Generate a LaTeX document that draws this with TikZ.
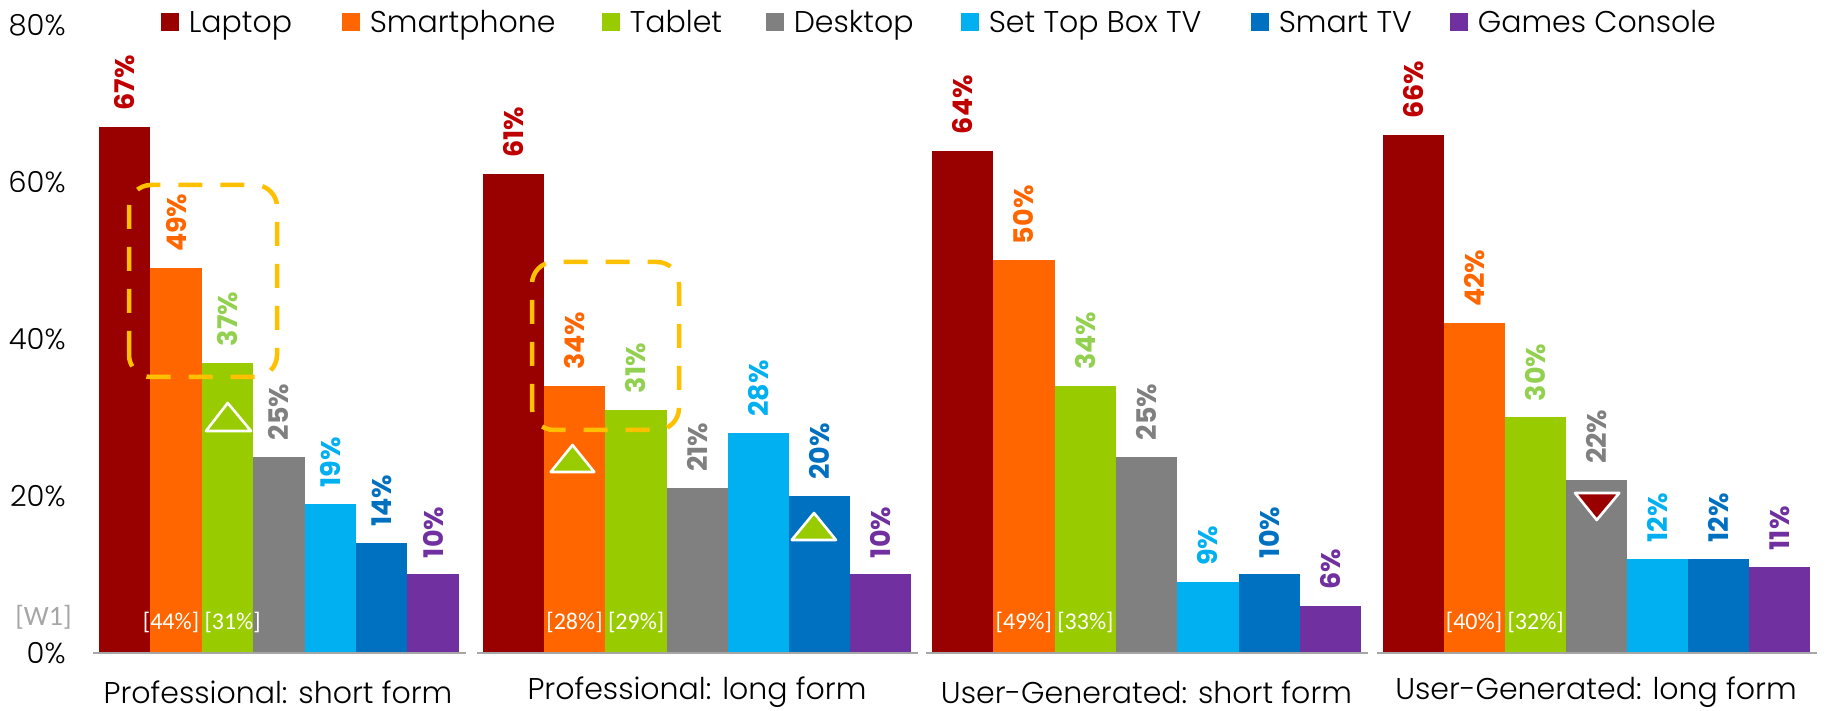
\documentclass[tikz,border=0pt]{standalone}
\usepackage{fontspec}
\setmainfont{Poppins Light}
\newfontfamily\valuefont{Poppins}
\newfontfamily\notefont{Carlito}
\usetikzlibrary{positioning}
% bar fills, one per device
\definecolor{bar0}{HTML}{990000}% laptop
\definecolor{bar1}{HTML}{FF6600}% smartphone
\definecolor{bar2}{HTML}{99CC00}% tablet
\definecolor{bar3}{HTML}{808080}% desktop
\definecolor{bar4}{HTML}{00B0F0}% set top box
\definecolor{bar5}{HTML}{0070C0}% smart tv
\definecolor{bar6}{HTML}{7030A0}% games console
% value label colours
\definecolor{lab0}{HTML}{C00000}
\definecolor{lab1}{HTML}{FF6600}
\definecolor{lab2}{HTML}{92D050}
\definecolor{lab3}{HTML}{808080}
\definecolor{lab4}{HTML}{00B0F0}
\definecolor{lab5}{HTML}{0070C0}
\definecolor{lab6}{HTML}{7030A0}
\definecolor{axisgray}{HTML}{A6A6A6}
\definecolor{wavegray}{HTML}{A6A6A6}
\definecolor{focusyellow}{HTML}{FFC000}
\tikzset{
  valuelabel/.style={rotate=90,anchor=west,inner sep=0pt,
                     font=\valuefont\bfseries\fontsize{13.5}{13.5}\selectfont},
  ticklabel/.style={anchor=east,inner sep=0pt,font=\fontsize{14.5}{14.5}\selectfont},
  keybox/.style={minimum size=9pt,inner sep=0pt},
  keytext/.style={inner sep=0pt,text height=10.4pt,text depth=0pt,
                  font=\fontsize{15}{15}\selectfont},
  grouplabel/.style={inner sep=0pt,font=\fontsize{15}{15}\selectfont},
  notelabel/.style={inner sep=0pt,font=\notefont\fontsize{12}{12}\selectfont},
  axisline/.style={draw=axisgray,line width=1.2pt},
  focusbox/.style={draw=focusyellow,line width=2.25pt,
                   dash pattern=on 12pt off 9pt,rounded corners=11pt},
  trendmark/.style={draw=white,line width=1.3pt,line join=round}
}
\begin{document}
\begin{tikzpicture}[x=0.5pt,y=0.5pt]
  \useasboundingbox (0,-58) rectangle (1825,653);
  % y axis
  \foreach \t in {0,20,40,60,80}
    \node[ticklabel] (tick-\t) at (66,{\t*7.85}) {\t\%};
  \node[notelabel,text=wavegray,anchor=east,font=\notefont\fontsize{14}{14}\selectfont]
    (wave) at (72,36) {[W1]};
  % legend
  \foreach \lx/\name [count=\k from 0] in {161/Laptop,342/Smartphone,602/Tablet,
      766/Desktop,961/Set Top Box TV,1251/Smart TV,1450/Games Console}{
    \node[keybox,fill=bar\k] (key-\k) at ({\lx+9},631) {};
    \node[keytext,right=4.5pt of key-\k] (keytext-\k) {\name};
  }
  % bars per group, 7.85 units per percent
  \foreach \gx/\gw/\vals [count=\g] in {99/51.4/{67,49,37,25,19,14,10},
      483/61.17/{61,34,31,21,28,20,10},932/61.3/{64,50,34,25,9,10,6},
      1382.7/61.04/{66,42,30,22,12,12,11}}{
    \foreach \v [count=\i from 0] in \vals {
      \fill[bar\i] ({\gx+\i*\gw},0) rectangle ({\gx+(\i+1)*\gw},{\v*7.85});
      \node[valuelabel,text=lab\i] (val-\g-\i) at ({\gx+(\i+0.5)*\gw},{\v*7.85+16}) {\v\%};
    }
    \draw[axisline] ({\gx-6},0) -- ({\gx+7*\gw+7},0);
  }
  % previous wave figures
  \node[notelabel,text=white] (prev-1) at (201.8,31) {[44\%] [31\%]};
  \node[notelabel,text=white] (prev-2) at (605.3,31) {[28\%] [29\%]};
  \node[notelabel,text=white] (prev-3) at (1054.6,31) {[49\%] [33\%]};
  \node[notelabel,text=white] (prev-4) at (1504.8,31) {[40\%] [32\%]};
  % group names
  \node[grouplabel] (cat-1) at (278,-39) {Professional: short form};
  \node[grouplabel] (cat-2) at (697,-39) {Professional: long form};
  \node[grouplabel] (cat-3) at (1146.5,-39) {User-Generated: short form};
  \node[grouplabel] (cat-4) at (1596,-39) {User-Generated: long form};
  % highlights
  \draw[focusbox] (129,276) rectangle (277,468);
  \draw[focusbox] (532,223) rectangle (679,391);
  \draw[trendmark,fill=bar2] (206,222) -- (227.7,250) -- (251,222) -- cycle;
  \draw[trendmark,fill=bar2] (550.7,181) -- (572.5,208) -- (594.3,181) -- cycle;
  \draw[trendmark,fill=bar2] (791.7,113) -- (814,140) -- (836,113) -- cycle;
  \draw[trendmark,fill=bar0] (1575,160) -- (1596.7,133) -- (1619.3,160) -- cycle;
\end{tikzpicture}
\end{document}
